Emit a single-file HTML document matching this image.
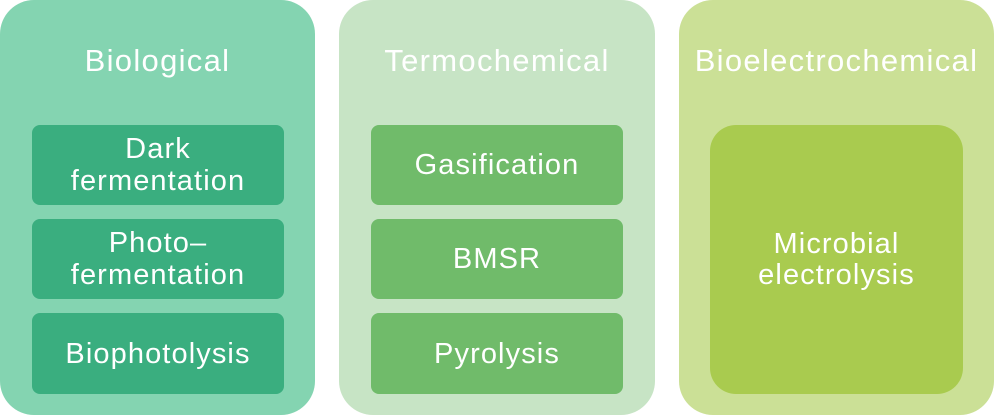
<!DOCTYPE html>
<html><head><style>
body{margin:0;width:1000px;height:415px;background:#fff;font-family:"Liberation Sans",sans-serif;position:relative;overflow:hidden}
.p{position:absolute;top:0;height:415px;border-radius:34px}
.t{position:absolute;left:-20px;right:-20px;top:41px;text-align:center;color:#fff;font-size:31px;letter-spacing:1.3px;line-height:40px}
.b{position:absolute;display:flex;align-items:center;justify-content:center;text-align:center;color:#fff;font-size:29px;line-height:32px;letter-spacing:1.1px;border-radius:8px}
</style></head><body>
<div class="p" style="left:0;width:315px;background:#84d4b1">
<div class="t">Biological</div>
<div class="b" style="left:32px;width:252px;top:125px;height:80px;background:#3aae7f">Dark<br>fermentation</div>
<div class="b" style="left:32px;width:252px;top:219px;height:80px;background:#3aae7f">Photo–<br>fermentation</div>
<div class="b" style="left:32px;width:252px;top:313px;height:81px;background:#3aae7f">Biophotolysis</div>
</div>
<div class="p" style="left:339px;width:316px;background:#c7e4c5">
<div class="t">Termochemical</div>
<div class="b" style="left:32px;width:252px;top:125px;height:80px;background:#70bb6a">Gasification</div>
<div class="b" style="left:32px;width:252px;top:219px;height:80px;background:#70bb6a">BMSR</div>
<div class="b" style="left:32px;width:252px;top:313px;height:81px;background:#70bb6a">Pyrolysis</div>
</div>
<div class="p" style="left:679px;width:315px;background:#cbe096">
<div class="t">Bioelectrochemical</div>
<div class="b" style="left:31px;width:253px;top:125px;height:269px;background:#a9cb4f;border-radius:26px;line-height:31px">Microbial<br>electrolysis</div>
</div>
</body></html>
